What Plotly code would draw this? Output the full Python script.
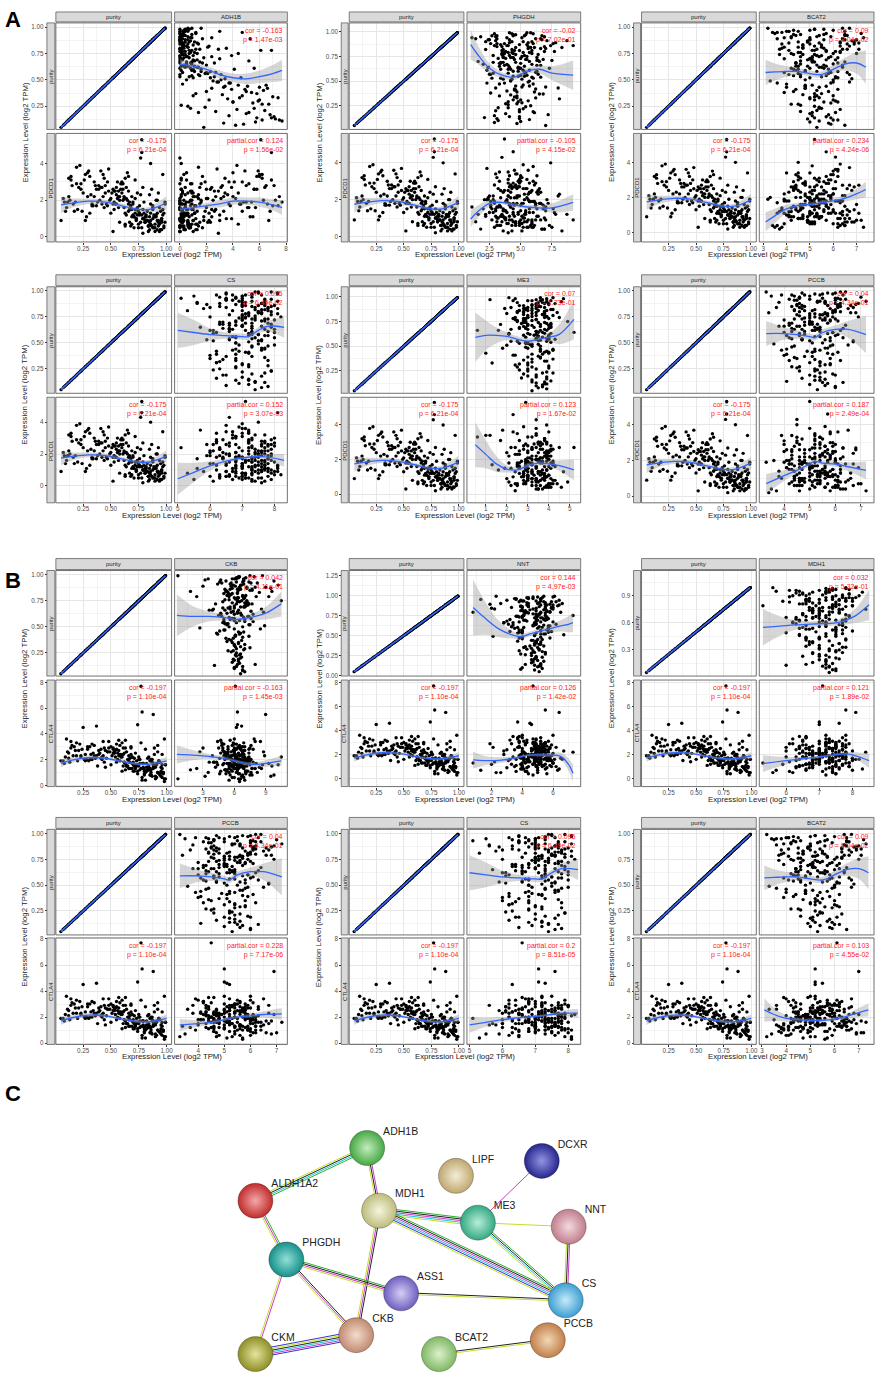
import math
import plotly.graph_objects as go

W, H = 879, 1378
FONT = "Liberation Sans, Arial, sans-serif"

# ---- per-tumour values ----
purity = [
    .62, .85, .12, .71, .93, .55, .38, .78, .66, .91, .22, .58, .83, .47, .97,
    .69, .15, .88, .74, .52, .31, .95, .61, .80, .43, .87, .18, .64, .76, .99,
    .57, .27, .90, .72, .35, .84, .68, .09, .79, .53, .96, .41, .63, .86, .25,
    .73, .59, .92, .14, .67, .81, .49, .77, .33, .89, .60, .20, .75, .94, .45,
    .56, .82, .29, .70, .98, .51, .86, .11, .65, .79, .37, .92, .61, .17, .84,
    .72, .44, .96, .58, .23, .88, .66, .07, .78, .54, .90, .32, .69, .83, .48,
    .95, .63, .19, .76, .87, .40, .71, .55, .93, .28, .81, .64, .13, .74, .99,
    .50, .85, .36, .68, .91, .60, .24, .79, .57, .97, .42, .73, .88, .16, .66,
    .82, .53, .30, .77, .94, .46, .70, .21, .86, .62, .98, .39, .75, .08, .89,
    .59, .80, .34, .67, .92, .26, .72, .52, .96, .43, .84, .10, .63, .78, .05,
    .64, .87, .45, .76, .93, .58, .31, .81, .69, .96, .52, .72, .85, .19, .90,
    .67, .79, .41, .88, .57, .74, .99, .35, .83, .62, .94, .48, .71, .27, .86,
    .55, .92, .66, .78, .14, .84, .61, .97, .39, .73, .89, .50, .80, .23, .68,
    .77, .60, .91, .44, .86, .70, .53, .95, .33, .82, .65, .98, .47, .75, .12,
    .88, .56, .74, .37, .93, .63, .81, .29, .69, .90, .54, .85, .42, .79, .96,
]
PDCD1 = [
    1.6, 2.3, 3.2, 1.1, 0.8, 2.7, 1.9, 0.5, 1.4, 2.0, 3.9, 2.2, 0.9, 1.7, 1.2,
    0.7, 2.8, 1.5, 2.4, 1.8, 1.3, 0.4, 2.9, 1.0, 3.4, 0.6, 1.9, 2.1, 1.2, 1.8,
    2.5, 0.9, 1.1, 3.1, 2.2, 0.3, 1.6, 1.4, 2.7, 1.9, 0.9, 3.6, 0.6, 1.3, 2.4,
    1.0, 2.6, 0.4, 3.3, 1.5, 0.8, 2.0, 4.3, 1.7, 1.2, 2.9, 1.5, 0.7, 1.6, 2.8,
    3.0, 1.1, 2.2, 1.8, 0.5, 2.4, 0.9, 1.9, 3.5, 0.2, 1.7, 1.3, 2.6, 1.4, 0.6,
    2.1, 1.6, 1.0, 0.8, 2.9, 1.7, 3.3, 2.1, 5.3, 2.5, 0.3, 2.3, 1.1, 0.9, 3.7,
    1.4, 0.7, 3.8, 1.3, 2.6, 2.0, 0.5, 1.8, 2.4, 1.1, 0.8, 2.7, 2.0, 1.5, 1.9,
    1.3, 0.4, 2.8, 0.6, 1.2, 3.0, 1.4, 1.0, 2.2, 3.4, 1.8, 0.9, 1.6, 1.8, 2.5,
    0.9, 1.5, 3.6, 2.3, 0.7, 1.8, 1.2, 2.7, 4.0, 2.1, 1.3, 2.6, 0.5, 1.9, 1.1,
    2.9, 1.9, 1.7, 0.8, 2.0, 3.1, 1.5, 0.3, 1.0, 2.2, 0.6, 1.6, 3.2, 4.6, 0.9,
    1.2, 0.6, 2.4, 1.7, 0.9, 2.0, 3.3, 1.1, 1.5, 0.4, 2.6, 1.3, 0.8, 2.9, 0.7,
    1.9, 1.0, 2.7, 0.5, 1.6, 1.2, 0.8, 3.0, 1.4, 2.2, 0.3, 2.5, 1.1, 3.4, 1.8,
    2.3, 0.9, 1.8, 1.2, 3.1, 0.6, 2.0, 1.5, 2.8, 1.0, 0.5, 2.1, 1.3, 2.6, 1.7,
    0.8, 2.4, 1.1, 3.2, 0.7, 1.9, 2.5, 0.4, 1.8, 1.2, 2.0, 0.6, 3.0, 1.4, 2.2,
    1.0, 2.1, 1.6, 2.6, 0.6, 1.3, 0.9, 3.5, 2.2, 0.5, 1.8, 1.1, 2.7, 1.5, 0.8,
]
CTLA4 = [
    1.8, 1.2, 2.5, 2.1, 0.9, 2.8, 1.5, 1.7, 2.3, 0.6, 3.2, 1.9, 1.4, 2.6, 1.0,
    2.2, 3.1, 1.3, 1.6, 2.9, 2.0, 0.7, 2.4, 1.1, 3.4, 1.8, 2.7, 1.5, 2.0, 1.6,
    2.7, 1.9, 0.5, 1.4, 2.3, 1.2, 3.0, 2.2, 1.7, 2.5, 1.3, 2.1, 3.5, 0.8, 4.5,
    1.6, 2.4, 1.0, 2.9, 1.8, 0.4, 2.6, 7.7, 2.0, 1.5, 3.3, 1.9, 2.2, 0.9, 1.4,
    2.0, 1.7, 2.8, 1.1, 3.6, 2.3, 0.8, 2.6, 1.5, 1.3, 4.6, 1.0, 2.9, 3.0, 1.2,
    2.5, 1.8, 0.6, 3.1, 2.2, 1.4, 2.0, 1.9, 5.7, 2.7, 1.6, 2.4, 1.3, 2.1, 3.4,
    1.1, 2.9, 2.3, 1.7, 0.7, 2.5, 1.5, 3.2, 1.9, 2.0, 1.2, 2.6, 1.8, 4.7, 0.5,
    3.0, 1.3, 2.1, 2.4, 1.6, 1.1, 2.8, 1.7, 3.5, 0.9, 2.2, 1.5, 5.5, 2.3, 1.8,
    1.4, 2.6, 1.9, 3.3, 0.8, 2.1, 1.6, 2.7, 1.2, 1.8, 0.3, 2.4, 2.0, 1.7, 2.9,
    2.2, 0.9, 2.5, 1.3, 3.1, 2.0, 1.6, 2.8, 1.0, 2.3, 1.5, 3.6, 1.7, 0.4, 1.9,
    1.5, 2.0, 2.7, 1.2, 1.8, 2.4, 3.0, 1.0, 2.2, 1.6, 2.5, 1.3, 1.9, 3.3, 0.7,
    2.1, 1.4, 2.8, 1.7, 2.3, 0.9, 1.6, 3.1, 1.2, 2.5, 1.8, 2.9, 1.1, 2.4, 2.0,
    1.8, 2.6, 1.3, 0.6, 3.4, 2.2, 1.5, 1.0, 2.7, 1.9, 2.4, 1.6, 0.8, 2.3, 2.9,
    1.3, 2.2, 1.7, 2.9, 1.0, 1.8, 2.5, 1.4, 3.2, 1.1, 2.0, 0.5, 2.6, 1.5, 2.1,
    1.6, 2.5, 1.1, 2.3, 1.9, 1.2, 2.8, 3.0, 1.7, 1.4, 2.2, 0.8, 2.0, 1.3, 2.4,
]
ADH1B = [
    0.4, 0.1, 6.2, 1.8, 0.2, 3.1, 5.4, 0.7, 2.6, 0.0, 4.3, 1.1, 0.3, 3.8, 0.5,
    1.3, 7.1, 0.6, 0.2, 4.6, 2.2, 1.2, 0.0, 3.5, 6.0, 0.8, 5.0, 2.0, 0.1, 0.9,
    0.2, 6.7, 2.4, 0.5, 1.0, 0.0, 5.2, 3.3, 1.5, 0.7, 3.0, 4.9, 0.3, 1.1, 0.6,
    3.9, 0.1, 0.4, 5.8, 0.9, 0.6, 2.5, 0.0, 7.4, 0.2, 1.6, 2.7, 4.4, 0.0, 6.5,
    1.9, 0.3, 4.0, 0.1, 0.7, 3.4, 0.0, 7.7, 0.5, 2.9, 1.2, 0.1, 5.6, 6.8, 1.4,
    0.0, 5.1, 0.2, 2.3, 0.8, 0.4, 1.7, 4.2, 6.1, 0.9, 0.0, 3.6, 0.2, 1.0, 2.8,
    4.7, 0.6, 1.4, 1.1, 0.1, 6.3, 0.3, 0.0, 0.9, 5.5, 2.1, 0.4, 7.2, 0.2, 1.6,
    0.5, 1.3, 3.2, 0.0, 0.6, 4.1, 1.9, 0.1, 2.7, 0.3, 6.6, 1.0, 0.0, 3.7, 0.8,
    2.2, 0.0, 5.9, 0.4, 1.2, 0.2, 3.0, 6.4, 0.1, 1.4, 0.4, 2.0, 0.7, 4.8, 5.3,
    0.9, 0.0, 7.0, 1.5, 0.3, 0.1, 2.4, 1.0, 0.0, 3.3, 0.6, 5.7, 0.1, 6.9, 1.8,
    0.3, 0.0, 4.4, 0.8, 0.1, 1.6, 6.0, 0.2, 1.0, 0.4, 2.3, 0.6, 0.1, 5.2, 0.9,
    0.5, 1.2, 3.9, 0.0, 2.0, 0.3, 0.6, 4.7, 0.2, 1.3, 0.0, 2.9, 0.7, 6.2, 0.4,
    1.4, 0.2, 0.0, 0.9, 6.9, 0.1, 0.8, 0.5, 5.0, 0.0, 1.7, 3.1, 0.3, 5.6, 1.1,
    0.2, 1.0, 0.1, 3.4, 0.7, 0.0, 2.6, 0.3, 4.5, 0.5, 0.9, 0.0, 3.7, 1.3, 7.5,
    0.0, 2.1, 0.4, 5.8, 0.2, 1.1, 0.6, 4.0, 0.1, 0.8, 1.5, 0.3, 2.4, 0.0, 0.6,
]
PHGDH = [
    4.2, 5.6, 3.1, 6.3, 1.4, 4.8, 2.6, 5.9, 3.7, 7.1, 5.2, 4.0, 6.6, 3.3, 5.4,
    4.6, 2.9, 7.6, 3.6, 5.1, 4.4, 1.8, 5.7, 6.9, 3.0, 4.9, 6.1, 2.4, 5.3, 4.1,
    6.4, 3.8, 2.2, 5.5, 4.7, 8.3, 3.4, 5.0, 4.3, 6.0, 2.7, 4.5, 7.3, 3.9, 5.8,
    3.2, 5.4, 6.7, 4.1, 2.0, 4.9, 5.6, 3.5, 6.2, 7.8, 4.4, 3.0, 5.1, 1.1, 4.6,
    5.0, 3.6, 4.8, 6.5, 2.9, 4.2, 9.2, 5.7, 3.3, 4.0, 6.8, 2.5, 5.2, 3.8, 6.1,
    4.5, 7.0, 3.1, 5.3, 4.0, 2.6, 6.3, 4.7, 3.7, 5.9, 4.3, 8.1, 3.4, 5.6, 2.3,
    3.0, 4.9, 6.0, 2.8, 5.5, 3.9, 7.5, 4.4, 6.6, 5.1, 3.5, 4.1, 2.1, 6.3, 5.8,
    5.7, 6.9, 4.2, 3.3, 8.7, 4.8, 5.4, 3.7, 2.5, 4.6, 6.2, 5.0, 3.1, 7.2, 4.0,
    4.3, 2.7, 5.6, 6.4, 3.9, 5.2, 1.6, 4.9, 7.4, 3.4, 6.0, 4.7, 5.5, 2.9, 4.1,
    6.2, 3.8, 4.5, 5.9, 2.4, 4.0, 6.8, 3.6, 5.3, 8.0, 4.6, 3.2, 5.0, 4.4, 7.0,
    4.8, 3.4, 5.7, 4.1, 6.2, 2.8, 5.0, 4.5, 3.6, 6.7, 4.3, 5.4, 3.1, 4.9, 5.9,
    3.9, 5.2, 4.6, 6.0, 2.6, 4.4, 5.5, 3.3, 7.0, 4.0, 5.1, 3.7, 6.4, 4.7, 2.9,
    5.3, 4.1, 6.6, 3.5, 4.9, 5.8, 2.3, 4.4, 6.1, 3.8, 5.6, 4.2, 7.7, 3.2, 5.0,
    4.6, 6.3, 3.0, 5.1, 4.0, 5.7, 3.4, 6.9, 4.7, 2.2, 5.3, 4.3, 6.0, 3.6, 4.9,
    3.7, 5.5, 4.2, 6.5, 3.1, 4.8, 5.9, 4.0, 2.8, 5.2, 6.6, 3.5, 4.5, 5.7, 4.4,
]
BCAT2 = [
    5.4, 4.1, 6.2, 5.8, 4.6, 6.7, 3.9, 5.1, 4.4, 5.9, 6.3, 4.8, 5.5, 3.6, 6.0,
    4.9, 5.7, 6.5, 4.3, 6.1, 5.2, 3.4, 5.6, 4.7, 4.0, 6.8, 5.0, 5.3, 4.5, 6.4,
    6.6, 4.2, 5.0, 5.4, 6.0, 3.8, 4.6, 5.8, 7.1, 5.5, 4.1, 6.2, 4.9, 6.9, 5.2,
    5.3, 4.4, 6.5, 5.9, 5.1, 4.7, 3.3, 6.1, 5.0, 6.4, 4.3, 4.6, 7.0, 5.7, 4.8,
    4.5, 6.3, 5.6, 3.9, 5.2, 6.8, 4.9, 5.4, 6.0, 3.7, 5.5, 6.6, 4.2, 5.8, 5.0,
    5.9, 4.8, 4.0, 6.2, 5.4, 5.6, 4.4, 6.5, 5.2, 4.3, 7.3, 5.0, 6.1, 4.7, 6.7,
    3.8, 5.7, 5.1, 4.6, 6.9, 5.3, 6.2, 4.1, 5.6, 5.9, 4.5, 6.4, 4.9, 5.2, 3.2,
    6.0, 6.3, 4.7, 5.1, 4.2, 5.8, 5.4, 6.6, 3.9, 5.0, 4.8, 5.5, 7.0, 5.1, 4.4,
    5.2, 4.6, 6.1, 5.7, 7.2, 4.0, 5.0, 5.3, 4.5, 6.4, 5.6, 4.3, 6.0, 5.9, 3.6,
    4.8, 5.6, 5.2, 6.5, 4.4, 4.6, 5.1, 6.2, 4.1, 5.4, 6.9, 5.0, 4.5, 5.7, 5.3,
    5.6, 4.9, 5.1, 6.3, 4.3, 5.3, 6.0, 3.9, 5.7, 6.5, 5.0, 4.6, 5.4, 6.1, 4.2,
    5.2, 6.4, 4.4, 5.0, 5.9, 3.7, 6.7, 5.3, 4.7, 5.5, 3.5, 6.0, 5.1, 4.5, 6.3,
    4.6, 5.4, 6.2, 4.1, 5.2, 6.6, 5.0, 4.3, 5.8, 5.3, 6.4, 4.8, 3.8, 5.5, 5.1,
    6.3, 4.5, 5.3, 5.7, 4.9, 5.0, 6.1, 3.6, 5.4, 6.7, 4.6, 5.2, 5.9, 4.2, 6.0,
    5.0, 5.8, 4.7, 5.2, 6.5, 4.4, 5.5, 6.2, 5.1, 3.9, 5.7, 7.1, 4.8, 5.3, 4.5,
]
CS = [
    7.1, 6.3, 7.4, 7.7, 6.8, 8.0, 6.0, 7.2, 7.6, 6.5, 7.0, 7.5, 5.8, 7.8, 8.1,
    6.6, 7.2, 7.7, 6.9, 7.5, 6.2, 5.5, 7.3, 7.9, 6.7, 7.0, 7.6, 6.4, 7.2, 7.4,
    7.8, 6.8, 8.1, 7.0, 6.0, 7.4, 7.9, 6.5, 7.2, 5.9, 7.6, 7.1, 6.6, 7.7, 6.3,
    7.3, 6.1, 7.9, 7.2, 6.8, 5.3, 7.5, 6.6, 7.8, 7.0, 6.2, 7.3, 8.2, 6.8, 7.6,
    6.7, 7.7, 7.0, 6.4, 7.5, 7.2, 8.0, 6.9, 5.7, 7.6, 7.3, 6.5, 7.8, 7.0, 6.0,
    7.4, 6.8, 6.2, 7.3, 7.9, 5.6, 7.0, 7.6, 7.1, 6.6, 7.7, 6.3, 7.3, 8.1, 6.9,
    7.0, 8.0, 6.5, 7.4, 5.9, 7.2, 7.6, 6.8, 5.1, 7.8, 7.0, 6.6, 7.4, 7.1, 7.9,
    6.8, 7.3, 7.7, 6.3, 7.0, 8.0, 6.1, 7.5, 7.2, 6.5, 6.9, 7.8, 7.6, 6.2, 7.3,
    7.6, 6.6, 7.0, 7.9, 6.3, 7.3, 6.8, 7.7, 7.5, 6.0, 8.1, 6.8, 7.1, 7.8, 5.6,
    7.2, 7.5, 6.4, 7.0, 7.7, 6.8, 8.0, 6.1, 7.3, 7.6, 6.5, 7.2, 6.7, 8.1, 7.4,
    7.3, 6.8, 7.7, 7.0, 6.5, 7.5, 6.2, 7.8, 7.1, 6.7, 7.6, 7.0, 7.9, 6.4, 7.3,
    6.6, 7.6, 7.2, 6.3, 7.7, 7.0, 7.5, 6.8, 7.8, 6.1, 7.3, 8.0, 6.8, 7.2, 7.0,
    7.4, 6.5, 7.0, 7.6, 6.8, 7.8, 6.6, 7.3, 6.2, 7.7, 7.1, 6.8, 7.5, 7.9, 6.4,
    7.0, 7.3, 6.7, 7.7, 7.1, 6.3, 7.6, 7.0, 6.8, 7.4, 7.9, 6.5, 7.3, 6.0, 7.7,
    7.6, 6.8, 7.4, 6.5, 7.0, 7.7, 6.7, 7.2, 7.8, 6.9, 7.3, 7.0, 6.2, 7.5, 7.1,
]
ME3 = [
    3.4, 2.5, 3.8, 3.0, 4.3, 2.2, 3.6, 4.0, 1.6, 3.2, 2.8, 3.9, 2.0, 4.2, 3.7,
    2.9, 4.1, 1.9, 3.5, 3.1, 2.4, 4.6, 3.3, 3.9, 1.0, 4.2, 2.7, 3.7, 3.2, 2.1,
    4.0, 3.0, 3.6, 1.7, 3.8, 3.4, 2.6, 3.7, 4.5, 2.9, 3.2, 2.3, 4.1, 3.5, 3.0,
    2.7, 3.7, 4.0, 3.2, 2.2, 4.2, 2.9, 3.4, 1.3, 3.8, 3.5, 3.0, 4.9, 2.5, 3.6,
    3.5, 2.8, 3.2, 4.1, 3.9, 2.0, 3.0, 3.7, 3.4, 2.4, 4.2, 3.5, 2.8, 3.9, 4.4,
    3.0, 4.0, 2.3, 3.4, 3.7, 3.2, 0.6, 3.9, 2.9, 4.1, 3.5, 2.6, 3.3, 3.8, 1.8,
    3.9, 2.1, 3.4, 2.8, 4.1, 3.5, 3.2, 2.5, 3.8, 4.0, 3.0, 5.2, 3.4, 2.9, 4.2,
    3.2, 3.8, 2.8, 4.0, 2.6, 3.5, 3.9, 3.0, 3.4, 1.2, 3.7, 4.1, 2.9, 3.2, 3.9,
    3.7, 3.0, 4.0, 2.4, 3.5, 4.2, 2.8, 3.4, 3.9, 3.1, 4.7, 3.6, 2.5, 3.5, 3.0,
    2.9, 3.9, 3.2, 3.8, 3.4, 2.6, 4.1, 3.5, 3.0, 4.0, 2.8, 3.4, 3.8, 2.3, 3.2,
    3.5, 2.9, 3.9, 2.5, 3.4, 4.0, 3.0, 3.8, 2.6, 4.1, 3.2, 3.6, 2.8, 3.9, 3.4,
    3.0, 3.8, 2.4, 3.4, 4.3, 2.8, 3.6, 3.9, 3.2, 2.1, 3.7, 3.0, 4.0, 3.4, 2.6,
    3.9, 3.2, 3.6, 2.8, 3.8, 2.5, 4.0, 3.4, 3.0, 3.9, 2.2, 3.6, 3.2, 4.2, 2.9,
    3.4, 4.0, 2.8, 3.8, 3.2, 3.6, 2.6, 3.9, 3.0, 3.7, 3.4, 2.4, 3.6, 2.9, 3.9,
    2.8, 3.6, 3.8, 3.2, 4.0, 3.0, 3.4, 2.5, 4.1, 3.6, 2.9, 3.8, 3.2, 3.0, 3.6,
]
PCCB = [
    5.1, 4.3, 5.5, 5.8, 4.6, 6.3, 4.0, 5.2, 3.8, 6.0, 5.6, 4.8, 6.5, 4.4, 5.9,
    4.2, 5.6, 6.2, 4.8, 6.7, 5.0, 3.5, 5.4, 4.6, 3.9, 6.1, 5.2, 4.3, 5.7, 6.4,
    6.0, 4.6, 5.3, 4.0, 5.8, 3.7, 5.0, 5.6, 6.8, 4.7, 5.4, 6.1, 4.4, 6.6, 5.2,
    4.7, 5.7, 6.4, 5.4, 4.2, 5.1, 3.6, 4.5, 6.2, 5.3, 4.0, 5.9, 6.9, 4.6, 5.6,
    5.4, 4.4, 5.6, 5.0, 6.0, 6.7, 4.7, 5.7, 5.2, 3.4, 5.1, 6.2, 4.3, 5.4, 4.6,
    5.8, 4.1, 4.8, 6.1, 5.2, 5.6, 4.5, 6.0, 5.0, 4.3, 7.2, 5.4, 5.7, 4.7, 6.5,
    4.4, 5.3, 5.0, 4.6, 6.8, 5.7, 6.1, 4.2, 5.5, 5.4, 4.8, 6.3, 4.1, 5.0, 3.3,
    5.5, 6.2, 4.4, 5.1, 4.5, 5.9, 5.3, 6.6, 4.6, 5.2, 4.9, 6.0, 6.9, 4.7, 4.0,
    5.2, 4.7, 5.8, 5.5, 7.0, 4.3, 5.1, 5.4, 4.5, 6.2, 5.7, 4.1, 5.9, 6.0, 3.8,
    4.6, 6.0, 5.2, 6.4, 4.2, 4.5, 5.5, 5.8, 3.9, 5.4, 6.7, 5.0, 4.7, 5.7, 5.3,
    5.3, 4.5, 5.7, 5.0, 6.1, 4.6, 5.4, 5.9, 4.3, 6.3, 5.0, 5.6, 4.8, 6.0, 5.4,
    4.8, 5.6, 5.1, 6.0, 4.1, 5.4, 6.2, 4.5, 5.8, 5.2, 4.6, 5.9, 5.0, 4.3, 6.1,
    5.8, 5.0, 4.6, 5.6, 5.2, 6.1, 4.8, 5.5, 5.9, 4.4, 5.6, 5.1, 6.2, 4.6, 5.3,
    5.4, 5.9, 4.4, 5.2, 5.7, 4.8, 5.6, 5.0, 4.2, 6.0, 5.4, 4.7, 5.8, 5.2, 6.3,
    4.6, 5.2, 5.6, 4.8, 6.0, 5.4, 4.4, 5.8, 5.0, 5.6, 4.7, 6.1, 5.2, 5.9, 4.3,
]
CKB = [
    6.0, 5.2, 6.8, 7.3, 4.6, 7.8, 5.5, 6.4, 3.9, 6.9, 6.2, 5.8, 8.4, 5.0, 7.1,
    5.6, 6.5, 8.0, 4.9, 7.5, 6.1, 3.2, 6.7, 5.3, 4.4, 7.2, 6.0, 5.7, 6.3, 8.7,
    7.0, 5.9, 6.6, 4.2, 6.4, 1.8, 5.4, 6.8, 9.3, 5.1, 6.0, 7.4, 4.7, 7.7, 6.2,
    5.8, 6.9, 7.6, 6.3, 4.0, 5.5, 2.7, 6.1, 7.0, 5.7, 4.8, 6.6, 10.5, 5.2, 6.4,
    6.5, 5.0, 6.2, 7.1, 7.9, 8.9, 5.6, 6.0, 5.9, 2.4, 6.7, 8.2, 4.5, 6.4, 5.3,
    7.4, 4.3, 5.8, 7.6, 6.1, 6.5, 5.1, 7.0, 6.3, 4.9, 10.2, 6.0, 6.9, 5.4, 8.5,
    4.7, 6.6, 6.4, 5.5, 9.5, 6.8, 7.2, 5.0, 6.2, 6.9, 5.7, 8.8, 4.1, 6.3, 0.6,
    6.8, 7.7, 5.3, 6.0, 4.4, 7.3, 6.6, 8.1, 5.6, 6.4, 6.1, 7.0, 9.0, 5.8, 3.6,
    6.3, 5.4, 7.5, 6.9, 9.8, 4.6, 6.0, 6.7, 5.1, 7.8, 6.5, 5.2, 7.2, 6.8, 3.0,
    5.5, 7.1, 6.4, 8.6, 4.8, 5.7, 6.2, 7.4, 3.5, 6.5, 9.6, 6.0, 5.3, 7.0, 6.6,
    6.3, 5.8, 6.9, 5.1, 7.4, 6.0, 6.6, 5.5, 7.0, 6.2, 5.3, 7.7, 6.4, 5.9, 6.7,
    5.6, 6.8, 6.1, 7.2, 5.0, 6.5, 7.5, 5.8, 6.3, 4.7, 6.9, 6.0, 7.1, 5.4, 6.6,
    7.0, 5.7, 6.4, 6.0, 8.0, 5.2, 6.7, 6.2, 5.9, 7.3, 6.1, 5.5, 6.8, 6.5, 4.9,
    6.1, 7.4, 5.6, 6.6, 6.3, 7.0, 5.3, 6.9, 6.0, 5.8, 7.6, 6.4, 5.1, 6.7, 6.2,
    6.5, 6.0, 7.2, 5.7, 6.8, 6.3, 5.4, 7.0, 6.6, 5.9, 6.2, 7.5, 6.1, 5.5, 6.9,
]
NNT = [
    4.7, 3.3, 5.1, 5.5, 4.0, 5.9, 4.8, 5.2, 2.8, 4.3, 4.9, 5.7, 2.2, 3.8, 5.3,
    4.1, 5.2, 6.0, 3.6, 5.5, 4.7, 1.3, 5.1, 5.8, 3.7, 4.4, 5.4, 3.1, 4.9, 6.1,
    5.6, 3.9, 2.6, 4.8, 5.0, 2.0, 4.3, 5.3, 6.5, 4.0, 5.2, 4.9, 3.4, 5.5, 4.6,
    4.9, 3.5, 6.2, 4.2, 3.8, 5.6, 2.1, 4.7, 5.1, 5.8, 3.7, 4.6, 7.3, 3.0, 5.0,
    5.2, 4.0, 4.8, 5.4, 6.0, 6.7, 3.9, 5.0, 4.9, 0.8, 4.5, 5.9, 3.3, 4.7, 5.5,
    5.3, 4.6, 3.6, 5.7, 4.9, 5.2, 2.8, 4.8, 5.5, 3.8, 6.6, 5.1, 4.2, 6.0, 4.0,
    3.6, 5.4, 5.0, 4.1, 6.3, 4.8, 5.7, 3.2, 5.2, 4.6, 3.9, 6.2, 4.8, 3.7, 2.3,
    4.8, 6.0, 4.2, 3.0, 5.1, 5.3, 4.9, 5.8, 3.8, 4.3, 5.2, 5.6, 6.4, 4.6, 3.4,
    4.5, 3.7, 5.3, 4.9, 6.4, 4.0, 3.2, 4.8, 5.1, 5.7, 4.7, 5.2, 5.5, 3.9, 1.9,
    5.0, 5.6, 4.6, 6.0, 3.8, 4.2, 5.2, 5.4, 3.5, 4.9, 5.9, 4.0, 4.8, 4.4, 5.1,
    4.9, 3.9, 5.3, 5.1, 4.1, 5.7, 3.8, 4.9, 5.5, 4.4, 5.2, 4.0, 5.9, 4.7, 5.0,
    5.2, 4.3, 4.9, 5.6, 4.0, 5.0, 5.4, 4.1, 4.7, 5.8, 3.9, 5.2, 4.9, 5.5, 4.4,
    4.0, 5.4, 4.8, 4.2, 5.2, 4.9, 5.7, 4.4, 5.1, 3.8, 5.5, 4.8, 4.1, 5.3, 4.9,
    5.1, 4.1, 5.5, 4.7, 4.0, 5.6, 4.9, 5.2, 4.3, 5.4, 4.8, 5.0, 5.8, 4.1, 5.2,
    4.3, 5.2, 4.0, 5.4, 4.9, 4.7, 4.2, 5.5, 5.0, 4.4, 5.7, 4.0, 4.9, 5.2, 4.7,
]
MDH1 = [
    7.1, 6.6, 7.3, 7.6, 6.3, 7.8, 6.8, 7.4, 6.0, 7.1, 7.3, 7.7, 6.1, 7.5, 7.9,
    6.5, 7.4, 7.9, 6.8, 7.7, 7.0, 5.7, 7.2, 7.5, 6.6, 7.8, 7.2, 6.3, 7.4, 8.1,
    7.7, 6.8, 6.2, 7.0, 7.4, 5.9, 7.2, 7.5, 8.0, 6.6, 7.3, 7.8, 6.4, 7.6, 7.0,
    6.8, 6.3, 7.9, 7.2, 6.6, 7.5, 6.0, 7.1, 7.7, 7.4, 6.2, 7.6, 8.4, 6.8, 7.2,
    7.2, 7.0, 7.5, 6.5, 7.8, 8.0, 6.6, 7.3, 6.8, 5.3, 7.6, 7.9, 6.2, 7.2, 6.7,
    7.4, 6.6, 6.1, 7.6, 7.0, 7.2, 6.8, 7.5, 7.8, 6.4, 8.2, 7.0, 7.3, 6.6, 7.7,
    6.4, 7.5, 7.0, 6.8, 8.0, 7.3, 7.6, 6.5, 7.2, 7.5, 6.6, 7.8, 6.0, 7.0, 5.6,
    7.5, 7.8, 6.7, 7.0, 6.4, 7.7, 7.2, 8.0, 6.6, 7.3, 7.0, 7.6, 8.1, 6.8, 6.3,
    7.0, 6.7, 7.6, 7.3, 8.3, 6.4, 7.0, 7.5, 6.6, 7.8, 7.2, 6.7, 7.7, 7.4, 6.1,
    7.2, 7.6, 6.6, 7.9, 6.5, 6.8, 7.3, 7.5, 6.3, 7.0, 8.0, 7.2, 6.6, 7.5, 7.3,
    7.3, 6.7, 7.5, 7.0, 6.5, 7.7, 7.3, 6.4, 7.8, 7.0, 7.4, 6.8, 7.6, 7.2, 6.6,
    6.9, 7.4, 6.6, 7.7, 7.2, 6.7, 7.8, 7.0, 7.5, 6.4, 7.3, 7.2, 6.8, 7.7, 7.0,
    7.5, 6.7, 7.2, 7.4, 6.6, 7.8, 7.0, 7.5, 6.8, 7.1, 7.7, 6.9, 7.4, 6.5, 7.9,
    6.7, 7.2, 7.7, 7.0, 7.4, 6.5, 7.5, 7.2, 7.8, 6.8, 7.0, 7.4, 6.4, 7.6, 7.1,
    7.4, 7.0, 6.8, 7.6, 7.2, 7.7, 6.5, 7.3, 7.0, 7.5, 6.8, 7.2, 7.8, 6.9, 7.4,
]

# ---- loess curves: knots, fit, half-width of grey band ----
purity_fit = dict(
    x=[0.05, 0.15, 0.3, 0.45, 0.6, 0.75, 0.85, 1.0],
    PDCD1=[1.75, 1.85, 1.95, 1.9, 1.7, 1.5, 1.5, 1.85],
    PDCD1_se=[0.45, 0.25, 0.15, 0.13, 0.12, 0.12, 0.15, 0.35],
    CTLA4=[1.7, 1.95, 2.15, 2.1, 1.85, 1.65, 1.65, 1.9],
    CTLA4_se=[0.3, 0.2, 0.15, 0.12, 0.12, 0.12, 0.15, 0.3],
)
ADH1B_fit = dict(
    x=[0, 1, 2, 3, 4, 5, 6, 7, 7.7],
    purity=[0.65, 0.63, 0.6, 0.55, 0.52, 0.51, 0.53, 0.56, 0.59],
    purity_se=[0.05, 0.03, 0.03, 0.04, 0.04, 0.05, 0.06, 0.08, 0.1],
    PDCD1=[1.5, 1.6, 1.7, 1.8, 1.95, 1.95, 1.9, 1.75, 1.6],
    PDCD1_se=[0.2, 0.15, 0.15, 0.2, 0.2, 0.2, 0.25, 0.3, 0.4],
)
PHGDH_fit = dict(
    x=[1, 1.5, 2.5, 3.5, 4.5, 5.5, 6.5, 7.5, 9.2],
    purity=[0.87, 0.78, 0.63, 0.56, 0.54, 0.6, 0.62, 0.58, 0.56],
    purity_se=[0.15, 0.1, 0.05, 0.03, 0.03, 0.03, 0.04, 0.07, 0.15],
    PDCD1=[0.95, 1.3, 1.8, 1.85, 1.7, 1.6, 1.55, 1.55, 1.85],
    PDCD1_se=[0.45, 0.35, 0.18, 0.12, 0.12, 0.12, 0.15, 0.25, 0.45],
)
BCAT2_fit = dict(
    x=[3.1, 3.5, 4, 4.5, 5, 5.5, 6, 6.5, 7, 7.4],
    purity=[0.57, 0.575, 0.58, 0.58, 0.56, 0.55, 0.6, 0.65, 0.66, 0.62],
    purity_se=[0.12, 0.08, 0.05, 0.03, 0.03, 0.03, 0.04, 0.06, 0.1, 0.16],
    PDCD1=[0.6, 0.95, 1.35, 1.55, 1.6, 1.7, 1.8, 1.95, 2.2, 2.45],
    PDCD1_se=[0.55, 0.4, 0.25, 0.15, 0.12, 0.12, 0.15, 0.2, 0.3, 0.45],
    CTLA4=[2.55, 2.2, 1.9, 1.8, 1.75, 1.75, 1.85, 2.05, 2.35, 2.55],
    CTLA4_se=[0.9, 0.5, 0.25, 0.15, 0.12, 0.12, 0.15, 0.2, 0.35, 0.5],
)
CS_fit = dict(
    x=[5, 5.5, 6, 6.5, 7, 7.2, 7.5, 7.8, 8.3],
    purity=[0.62, 0.6, 0.58, 0.57, 0.56, 0.56, 0.62, 0.66, 0.65],
    purity_se=[0.17, 0.12, 0.06, 0.03, 0.03, 0.03, 0.03, 0.05, 0.1],
    PDCD1=[0.45, 0.85, 1.25, 1.55, 1.75, 1.8, 1.85, 1.8, 1.6],
    PDCD1_se=[1.0, 0.6, 0.3, 0.15, 0.1, 0.1, 0.12, 0.2, 0.4],
    CTLA4=[1.4, 1.6, 1.8, 1.95, 2.05, 2.1, 2.2, 2.3, 2.3],
    CTLA4_se=[0.6, 0.35, 0.2, 0.12, 0.1, 0.1, 0.12, 0.2, 0.35],
)
ME3_fit = dict(
    x=[0.5, 1, 1.5, 2, 2.5, 3, 3.5, 4, 4.5, 5.2],
    purity=[0.59, 0.61, 0.61, 0.6, 0.57, 0.55, 0.57, 0.59, 0.62, 0.77],
    purity_se=[0.25, 0.15, 0.08, 0.04, 0.03, 0.03, 0.03, 0.04, 0.1, 0.2],
    PDCD1=[2.85, 2.3, 1.75, 1.45, 1.4, 1.65, 1.8, 1.75, 1.65, 1.4],
    PDCD1_se=[1.3, 0.8, 0.45, 0.2, 0.15, 0.15, 0.15, 0.2, 0.3, 0.6],
)
PCCB_fit = dict(
    x=[3.3, 4, 4.5, 5, 5.2, 5.5, 6, 6.5, 7.2],
    purity=[0.59, 0.59, 0.58, 0.56, 0.55, 0.6, 0.63, 0.63, 0.58],
    purity_se=[0.12, 0.06, 0.04, 0.03, 0.03, 0.03, 0.04, 0.08, 0.18],
    PDCD1=[0.7, 1.15, 1.45, 1.8, 1.95, 1.85, 1.8, 1.65, 1.45],
    PDCD1_se=[0.55, 0.3, 0.15, 0.12, 0.12, 0.12, 0.15, 0.25, 0.5],
    CTLA4=[1.4, 1.5, 1.6, 1.8, 1.9, 2.0, 2.1, 2.2, 2.25],
    CTLA4_se=[0.45, 0.25, 0.15, 0.12, 0.12, 0.12, 0.15, 0.25, 0.45],
)
CKB_fit = dict(
    x=[0.5, 2, 3.5, 5, 6, 7, 8, 9, 10.5],
    purity=[0.61, 0.6, 0.6, 0.59, 0.57, 0.58, 0.6, 0.63, 0.72],
    purity_se=[0.2, 0.1, 0.05, 0.03, 0.03, 0.03, 0.04, 0.06, 0.12],
    CTLA4=[2.4, 2.35, 2.25, 2.1, 1.9, 1.7, 1.6, 1.7, 1.9],
    CTLA4_se=[0.7, 0.4, 0.2, 0.15, 0.12, 0.15, 0.2, 0.25, 0.4],
)
NNT_fit = dict(
    x=[0.8, 1.5, 2.5, 3.5, 4, 4.5, 5.5, 6.5, 7, 7.3],
    purity=[0.85, 0.73, 0.58, 0.5, 0.49, 0.52, 0.57, 0.62, 0.64, 0.66],
    purity_se=[0.35, 0.22, 0.1, 0.04, 0.03, 0.03, 0.04, 0.07, 0.1, 0.12],
    CTLA4=[1.55, 1.5, 1.52, 1.7, 1.85, 1.95, 1.95, 1.85, 1.2, 0.45],
    CTLA4_se=[0.7, 0.4, 0.25, 0.15, 0.1, 0.1, 0.15, 0.3, 0.5, 0.7],
)
MDH1_fit = dict(
    x=[5.3, 6, 6.5, 7, 7.5, 7.8, 8.1, 8.5],
    purity=[0.55, 0.57, 0.58, 0.59, 0.6, 0.63, 0.68, 0.8],
    purity_se=[0.2, 0.08, 0.04, 0.03, 0.03, 0.05, 0.08, 0.17],
    CTLA4=[1.25, 1.5, 1.65, 1.8, 2.0, 2.05, 1.9, 1.5],
    CTLA4_se=[0.7, 0.3, 0.15, 0.1, 0.1, 0.15, 0.3, 0.6],
)

# ---- correlation labels ----
PDCD1_cor, PDCD1_p = -0.175, "6.21e-04"
CTLA4_cor, CTLA4_p = -0.197, "1.10e-04"
genes_A = ["ADH1B", "PHGDH", "BCAT2", "CS", "ME3", "PCCB"]
cor_A = [-0.163, -0.02, 0.09, 0.095, 0.07, 0.04]
cor_p_A = ["1.47e-03", "7.02e-01", "8.04e-02", "6.49e-02", "1.73e-01", "4.34e-01"]
partial_A = [0.124, -0.105, 0.234, 0.152, 0.123, 0.187]
partial_p_A = ["1.56e-02", "4.15e-02", "4.24e-06", "3.07e-03", "1.67e-02", "2.49e-04"]
genes_B = ["CKB", "NNT", "MDH1", "PCCB", "CS", "BCAT2"]
cor_B = [0.042, 0.144, 0.032, 0.04, 0.095, 0.09]
cor_p_B = ["4.11e-01", "4.97e-03", "5.32e-01", "4.34e-01", "6.49e-02", "8.04e-02"]
partial_B = [-0.163, 0.126, 0.121, 0.228, 0.2, 0.103]
partial_p_B = ["1.45e-03", "1.42e-02", "1.89e-02", "7.17e-06", "8.51e-05", "4.55e-02"]

# ---- STRING network ----
node_names = ["ADH1B", "LIPF", "DCXR", "ALDH1A2", "MDH1", "ME3", "NNT",
              "PHGDH", "ASS1", "CS", "CKB", "PCCB", "CKM", "BCAT2"]
edges = [
    ("ADH1B", "ALDH1A2", ["nbh", "db", "coex", "txt"]),
    ("ADH1B", "MDH1", ["exp", "coex", "txt"]),
    ("ALDH1A2", "PHGDH", ["nbh", "exp", "txt"]),
    ("MDH1", "ME3", ["nbh", "coex", "exp", "db", "txt"]),
    ("MDH1", "CS", ["nbh", "coex", "exp", "db", "cooc", "txt"]),
    ("MDH1", "CKB", ["coex", "exp", "txt"]),
    ("ME3", "NNT", ["txt"]),
    ("ME3", "DCXR", ["exp"]),
    ("ME3", "CS", ["nbh", "coex", "db", "txt"]),
    ("NNT", "CS", ["exp", "coex", "txt"]),
    ("PHGDH", "ASS1", ["nbh", "coex", "exp", "txt"]),
    ("PHGDH", "CKB", ["coex", "exp", "txt"]),
    ("PHGDH", "CKM", ["exp", "txt"]),
    ("ASS1", "CS", ["coex", "txt"]),
    ("CKB", "CKM", ["cooc", "exp", "db", "coex", "txt", "cooc"]),
    ("BCAT2", "PCCB", ["coex", "txt"]),
]

# layout of the network (pixel coordinates of node centres)
node_xy = {
    "ADH1B": (368, 1150), "LIPF": (457, 1178), "DCXR": (543, 1163),
    "ALDH1A2": (256, 1203), "MDH1": (380, 1213), "ME3": (479, 1225),
    "NNT": (570, 1229), "PHGDH": (287, 1262), "ASS1": (402, 1296),
    "CS": (567, 1303), "CKB": (357, 1338), "PCCB": (549, 1343),
    "CKM": (256, 1357), "BCAT2": (440, 1357),
}
node_color = {
    "ADH1B": ("#45a845", "#c4ecbc"), "LIPF": ("#bfa870", "#f4edd6"),
    "DCXR": ("#26268e", "#9494e4"), "ALDH1A2": ("#c02c2c", "#f4a8a8"),
    "MDH1": ("#bcbc7c", "#f6f6de"), "ME3": ("#34a882", "#b8eed8"),
    "NNT": ("#c07e8c", "#f4d8de"), "PHGDH": ("#178f8a", "#92e0da"),
    "ASS1": ("#6e5ec0", "#d6cef4"), "CS": ("#3c9ed0", "#c6eafa"),
    "CKB": ("#c08a70", "#f4dccc"), "PCCB": ("#c0804a", "#f4d6b6"),
    "CKM": ("#8e8e26", "#e4e49c"), "BCAT2": ("#80b864", "#dcf0cc"),
}
channel_color = {"nbh": "#2bb02b", "db": "#22c4e4", "coex": "#222222",
                 "txt": "#c4de2a", "exp": "#cc3ccc", "cooc": "#3535c8"}

expr = {"purity": purity, "PDCD1": PDCD1, "CTLA4": CTLA4, "ADH1B": ADH1B,
        "PHGDH": PHGDH, "BCAT2": BCAT2, "CS": CS, "ME3": ME3, "PCCB": PCCB,
        "CKB": CKB, "NNT": NNT, "MDH1": MDH1}
fits = {"purity": purity_fit, "ADH1B": ADH1B_fit, "PHGDH": PHGDH_fit,
        "BCAT2": BCAT2_fit, "CS": CS_fit, "ME3": ME3_fit, "PCCB": PCCB_fit,
        "CKB": CKB_fit, "NNT": NNT_fit, "MDH1": MDH1_fit}

# axis windows per sub-figure (top y, purity x, gene x, gene dtick, bottom y)
views_A = [
    dict(top=[0.03, 1.04], px=[0.003, 1.05], gx=[-0.4, 8.1], gd=2, bot=[-0.27, 5.64]),
    dict(top=[0.01, 1.09], px=[0.003, 1.05], gx=[0.7, 9.8], gd=2.5, gf=".1f", bot=[-0.3, 5.6]),
    dict(top=[0.03, 1.04], px=[0.003, 1.05], gx=[2.83, 7.75], gd=1, bot=[-0.54, 5.65]),
    dict(top=[0.015, 1.04], px=[0.003, 1.05], gx=[4.9, 8.4], gd=1, bot=[-1.06, 5.56]),
    dict(top=[0.025, 1.1], px=[0.003, 1.05], gx=[0.1, 5.52], gd=1, bot=[-0.5, 5.6]),
    dict(top=[0.015, 1.04], px=[0.003, 1.05], gx=[3.03, 7.51], gd=1, bot=[-0.37, 5.54]),
]
views_B = [
    dict(top=[0.028, 1.04], px=[0.005, 1.045], gx=[0.28, 11.08], gd=3, bot=[-0.1, 8.18]),
    dict(top=[-0.005, 1.31], px=[0.005, 1.045], gx=[0.4, 7.8], gd=2, bot=[-0.66, 8.19]),
    dict(top=[0.01, 1.18], px=[0.005, 1.045], gx=[5.19, 8.65], gd=1, bot=[-0.66, 8.19],
         td=0.3, tf=".1f"),
    dict(top=[0.018, 1.04], px=[0.005, 1.045], gx=[3.1, 7.41], gd=1, bot=[-0.1, 8.08]),
    dict(top=[0.018, 1.04], px=[0.005, 1.045], gx=[4.92, 8.38], gd=1, bot=[-0.1, 8.08]),
    dict(top=[0.018, 1.04], px=[0.005, 1.045], gx=[2.89, 7.63], gd=1, bot=[-0.1, 8.08]),
]

rows_px = [(9, 20, 127, 131, 240), (273, 285, 392, 396, 502),
           (558, 570, 676, 680, 787), (818, 830, 936, 939, 1046)]
cols_px = [(47, 56, 172, 175, 288), (342, 350, 465, 468, 582), (635, 643, 758, 761, 876)]

subfigs = []
for i, g in enumerate(genes_A):
    subfigs.append(dict(row=i // 3, col=i % 3, imm="PDCD1", gene=g, view=views_A[i],
                        top_txt=f"cor = {cor_A[i]}<br>p = {cor_p_A[i]}",
                        imm_txt=f"cor = {PDCD1_cor}<br>p = {PDCD1_p}",
                        part_txt=f"partial.cor = {partial_A[i]}<br>p = {partial_p_A[i]}"))
for i, g in enumerate(genes_B):
    subfigs.append(dict(row=2 + i // 3, col=i % 3, imm="CTLA4", gene=g, view=views_B[i],
                        top_txt=f"cor = {cor_B[i]}<br>p = {cor_p_B[i]}",
                        imm_txt=f"cor = {CTLA4_cor}<br>p = {CTLA4_p}",
                        part_txt=f"partial.cor = {partial_B[i]}<br>p = {partial_p_B[i]}"))

fig = go.Figure()
axes = {}
shapes = []
annos = []
counter = [0]
GRID = "#e6e6e6"
GRID_MINOR = "#f3f3f3"


def new_axes(x0, x1, y0, y1):
    counter[0] += 1
    s = "" if counter[0] == 1 else str(counter[0])
    axes["xaxis" + s] = dict(domain=[x0 / W, x1 / W], anchor="y" + s)
    axes["yaxis" + s] = dict(domain=[1 - y1 / H, 1 - y0 / H], anchor="x" + s)
    return s


def style_axis(d, rng, dtick, fmt, labels):
    d.update(range=rng, tick0=0, dtick=dtick, tickformat=fmt, showgrid=True,
             gridcolor=GRID, gridwidth=0.8, zeroline=False, showline=False,
             minor=dict(dtick=dtick / 2, showgrid=True, gridcolor=GRID_MINOR, gridwidth=0.5),
             tickfont=dict(size=6.3, color="#4d4d4d", family=FONT), fixedrange=True)
    if labels:
        d.update(ticks="outside", ticklen=2, tickwidth=0.6, tickcolor="#333333",
                 showticklabels=True, ticklabelstandoff=-2)
    else:
        d.update(ticks="", showticklabels=False)


def note(x, y, text, size, color="#1a1a1a", angle=0, **kw):
    annos.append(dict(xref="paper", yref="paper", x=x / W, y=1 - y / H, text=text,
                      showarrow=False, textangle=angle, xanchor="center", yanchor="middle",
                      font=dict(size=size, color=color, family=FONT), **kw))


def strip(x0, x1, y0, y1, text, angle=0):
    shapes.append(dict(type="rect", xref="paper", yref="paper", x0=x0 / W, x1=x1 / W,
                       y0=1 - y1 / H, y1=1 - y0 / H, fillcolor="#d9d9d9",
                       line=dict(color="#4d4d4d", width=0.7), layer="above"))
    note((x0 + x1) / 2, (y0 + y1) / 2, text, 6, angle=angle)


for sf in subfigs:
    st, tt, tb, bt, bb = rows_px[sf["row"]]
    sl, l1, r1, l2, r2 = cols_px[sf["col"]]
    v = sf["view"]
    imm, gene = sf["imm"], sf["gene"]
    boxes = [("TL", l1, r1, tt, tb), ("TR", l2, r2, tt, tb),
             ("BL", l1, r1, bt, bb), ("BR", l2, r2, bt, bb)]
    for key, x0, x1, y0, y1 in boxes:
        s = new_axes(x0, x1, y0, y1)
        left = key[1] == "L"
        top = key[0] == "T"
        xname = "purity" if left else gene
        yname = "purity" if top else imm
        style_axis(axes["xaxis" + s], v["px"] if left else v["gx"],
                   0.25 if left else v["gd"], ".2f" if left else v.get("gf", ""), not top)
        style_axis(axes["yaxis" + s], v["top"] if top else v["bot"],
                   v.get("td", 0.25) if top else 2, v.get("tf", ".2f") if top else "", left)
        if left:
            axes["yaxis" + s].update(anchor="free", position=sl / W, ticklabelstandoff=0)
        xr, yr = "x" + s, "y" + s

        fig.add_trace(go.Scatter(x=expr[xname], y=expr[yname], mode="markers",
                                 marker=dict(size=3.4, color="black"),
                                 xaxis=xr, yaxis=yr, hoverinfo="skip"))
        if key == "TL":
            diag = sorted(purity)
            fig.add_trace(go.Scatter(x=diag, y=diag, mode="lines",
                                     line=dict(color="#3366ff", width=1.6),
                                     xaxis=xr, yaxis=yr, hoverinfo="skip"))
        else:
            f = fits[xname]
            fy, se = f[yname], f[yname + "_se"]
            lo = [a - b for a, b in zip(fy, se)]
            hi = [a + b for a, b in zip(fy, se)]
            fig.add_trace(go.Scatter(x=f["x"], y=lo, mode="lines", line=dict(width=0, shape="spline"),
                                     xaxis=xr, yaxis=yr, hoverinfo="skip"))
            fig.add_trace(go.Scatter(x=f["x"], y=hi, mode="lines", line=dict(width=0, shape="spline"),
                                     fill="tonexty", fillcolor="rgba(153,153,153,0.4)",
                                     xaxis=xr, yaxis=yr, hoverinfo="skip"))
            fig.add_trace(go.Scatter(x=f["x"], y=fy, mode="lines",
                                     line=dict(color="#3366ff", width=1.3, shape="spline"),
                                     xaxis=xr, yaxis=yr, hoverinfo="skip"))
            txt = sf["top_txt"] if key == "TR" else (sf["imm_txt"] if key == "BL" else sf["part_txt"])
            annos.append(dict(xref=xr + " domain", yref=yr + " domain", x=0.975, y=0.985,
                              xanchor="right", yanchor="top", align="right", text=txt,
                              showarrow=False, font=dict(size=7, color="#ff1a1a", family=FONT)))
        shapes.append(dict(type="rect", xref=xr + " domain", yref=yr + " domain",
                           x0=0, x1=1, y0=0, y1=1, line=dict(color="#4d4d4d", width=0.8),
                           layer="above"))

    strip(l1, r1, st, tt - 1, "purity")
    strip(l2, r2, st, tt - 1, gene)
    strip(sl, l1 - 1, tt, tb, "purity", -90)
    strip(sl, l1 - 1, bt, bb, imm, -90)
    note((l1 + r2) / 2, bb + 12.5, "Expression Level (log2 TPM)", 7.8)
    note(sl - 22, (tt + bb) / 2, "Expression Level (log2 TPM)", 7.8, angle=-90)

# ---- panel C network ----
s = new_axes(220, 640, 1090, 1378)
axes["xaxis" + s].update(range=[220, 640], visible=False, fixedrange=True)
axes["yaxis" + s].update(range=[1378, 1090], visible=False, fixedrange=True)
xr, yr = "x" + s, "y" + s
for a, b, chans in edges:
    ax_, ay_ = node_xy[a]
    bx_, by_ = node_xy[b]
    dx, dy = bx_ - ax_, by_ - ay_
    L = math.hypot(dx, dy)
    nx, ny = -dy / L, dx / L
    for i, ch in enumerate(chans):
        off = (i - (len(chans) - 1) / 2) * 1.6
        fig.add_trace(go.Scatter(x=[ax_ + nx * off, bx_ + nx * off],
                                 y=[ay_ + ny * off, by_ + ny * off], mode="lines",
                                 line=dict(color=channel_color[ch], width=1.0),
                                 xaxis=xr, yaxis=yr, hoverinfo="skip"))
fig.add_trace(go.Scatter(
    x=[node_xy[n][0] for n in node_names], y=[node_xy[n][1] for n in node_names],
    mode="markers", xaxis=xr, yaxis=yr, hoverinfo="skip", cliponaxis=False,
    marker=dict(size=35, color=[node_color[n][0] for n in node_names],
                gradient=dict(type="radial", color=[node_color[n][1] for n in node_names]),
                line=dict(color="rgba(0,0,0,0.35)", width=0.8))))
fig.add_trace(go.Scatter(
    x=[node_xy[n][0] + 16 for n in node_names], y=[node_xy[n][1] - 16 for n in node_names],
    mode="text", text=node_names, textposition="middle right", cliponaxis=False,
    textfont=dict(size=10.5, color="#222222", family=FONT),
    xaxis=xr, yaxis=yr, hoverinfo="skip"))

for letter, yy in [("A", 2), ("B", 565), ("C", 1081)]:
    annos.append(dict(xref="paper", yref="paper", x=3 / W, y=1 - yy / H, xanchor="left",
                      yanchor="top", text=f"<b>{letter}</b>", showarrow=False,
                      font=dict(size=22, color="black", family=FONT)))

fig.update_layout(
    width=W, height=H, margin=dict(l=0, r=0, t=0, b=0),
    paper_bgcolor="white", plot_bgcolor="white", showlegend=False, hovermode=False,
    shapes=shapes, annotations=annos, **axes,
)

fig.write_html("out.html", config={"displayModeBar": False},
               post_script="document.body.style.margin='0';")
